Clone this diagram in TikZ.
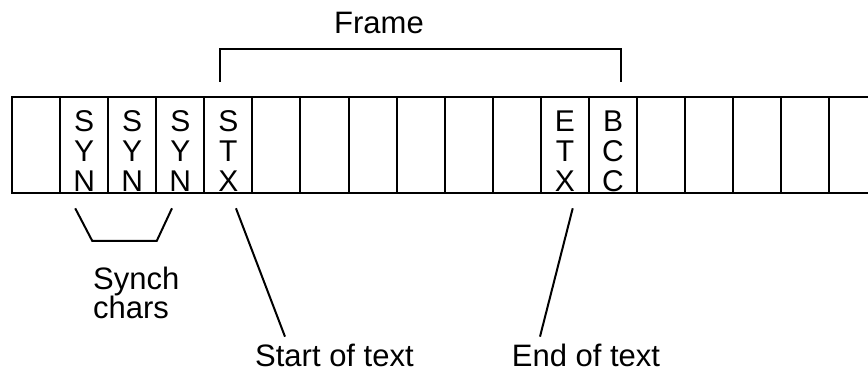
\documentclass[tikz,border=0pt]{standalone}
\usepackage{fontspec}
\setmainfont{Liberation Sans}
\begin{document}
\begin{tikzpicture}[x=1pt,y=-1pt,
  cell/.style={draw, line width=2pt, minimum width=48.08pt, minimum height=96.6pt, inner sep=0pt, outer sep=0pt},
  letters/.style={font=\fontsize{30}{30}\selectfont, align=center, inner sep=0pt},
  lbl/.style={font=\fontsize{31}{29.5}\selectfont, inner sep=0pt},
  conn/.style={line width=2pt}]
\useasboundingbox (0,0) rectangle (868,374);
\foreach \i in {0,...,16} \node[cell] (c\i) at ({12+48.08*(\i+0.5)},145) {};
\coordinate (rt) at (868,96.7);
\coordinate (rb) at (868,193.3);
\draw[conn] (c16.north east) -- (rt);
\draw[conn] (c16.south east) -- (rb);
% letters
\node[letters] (t1) at ([yshift=-6pt]c1.center) {S\\Y\\N};
\node[letters] (t2) at ([yshift=-6pt]c2.center) {S\\Y\\N};
\node[letters] (t3) at ([yshift=-6pt]c3.center) {S\\Y\\N};
\node[letters] (t4) at ([yshift=-6pt]c4.center) {S\\T\\X};
\node[letters] (t11) at ([yshift=-6pt]c11.center) {E\\T\\X};
\node[letters] (t12) at ([yshift=-6pt]c12.center) {B\\C\\C};
% labels
\node[lbl, anchor=base] (frame) at (379,33.3) {Frame};
\node[lbl, align=left, anchor=north west] (synch) at (93,266.5) {Synch\\chars};
\node[lbl, anchor=base west] (st) at (255,366.7) {Start of text};
\node[lbl, anchor=base west] (et) at (511.7,366.7) {End of text};
% frame bracket
\draw[conn] ([xshift=-8.4pt,yshift=15pt]c4.north) -- ++(0,-32.7) -| ([xshift=7.7pt,yshift=15pt]c12.north);
% synch bracket
\coordinate (sb1) at (92.3,241);
\coordinate (sb2) at (156.7,241);
\draw[conn] ([xshift=-8.9pt,yshift=-15pt]c1.south) -- (sb1) -- (sb2) -- ([xshift=-8.3pt,yshift=-15pt]c3.south);
% pointers
\draw[conn] ([xshift=7.6pt,yshift=-15pt]c4.south) -- ([xshift=30pt,yshift=7.4pt]st.north west);
\draw[conn] ([xshift=7.8pt,yshift=-15pt]c11.south) -- ([xshift=28.3pt,yshift=7.4pt]et.north west);
\end{tikzpicture}
\end{document}
